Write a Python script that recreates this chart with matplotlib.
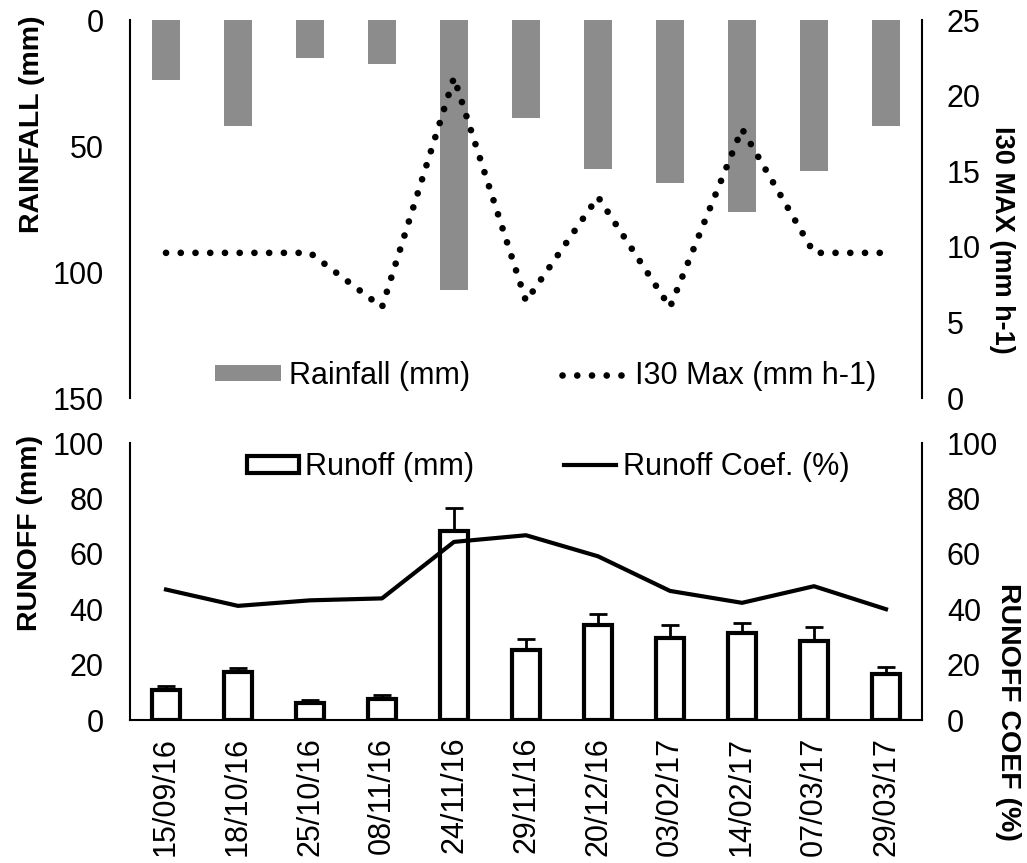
import matplotlib
matplotlib.use("Agg")
import matplotlib.pyplot as plt
import numpy as np
from matplotlib.patches import Patch
from matplotlib.lines import Line2D

plt.rcParams['font.family'] = ['Liberation Sans', 'DejaVu Sans']

dates = ["15/09/16", "18/10/16", "25/10/16", "08/11/16", "24/11/16", "29/11/16",
         "20/12/16", "03/02/17", "14/02/17", "07/03/17", "29/03/17"]
rainfall = [24, 42, 15, 17.5, 107, 39, 59, 64.5, 76, 60, 42]
i30max = [9.6, 9.6, 9.6, 6.0, 21.2, 6.4, 13.3, 6.0, 17.8, 9.6, 9.6]
runoff = [11, 17.3, 6.1, 7.7, 68.4, 25.4, 34.4, 29.6, 31.5, 28.6, 16.7]
runoff_err = [1.2, 1.5, 1.2, 1.5, 8.0, 3.7, 4.0, 4.7, 3.6, 5.0, 2.5]
runoff_coef = [47.1, 41.2, 43.2, 43.9, 64.3, 66.7, 59.1, 46.6, 42.3, 48.3, 40.0]

W, H = 1027, 863
fig = plt.figure(figsize=(W / 100, H / 100), dpi=100)

def fr(x0, y0, x1, y1):
    return [x0 / W, 1 - y1 / H, (x1 - x0) / W, (y1 - y0) / H]

x = np.arange(len(dates))
FS = 22
LFS = 20.5
gray = '#8c8c8c'

# ---------- top panel ----------
ax1 = fig.add_axes(fr(130, 20, 922, 398))
ax1.bar(x, rainfall, width=0.39, color=gray, zorder=1)
ax1.set_ylim(150, 0)
ax1.set_xlim(-0.5, len(dates) - 0.5)
ax1.set_yticks([0, 50, 100, 150])
ax1.set_xticks([])
for s in ['top', 'bottom']:
    ax1.spines[s].set_visible(False)
ax1.spines['left'].set_linewidth(1.5)
ax1.spines['right'].set_visible(False)
ax1.tick_params(axis='y', length=0, pad=19, labelsize=FS)
ax1.set_ylabel("RAINFALL (mm)", fontsize=LFS, fontweight='bold')
ax1.yaxis.set_label_coords(-0.124, 0.725)
ax1.yaxis.label.set_va('center')

ax1r = ax1.twinx()
dot_ls = (0, (0.01, 2.2))
DLW = 4.8
ax1r.plot(x, i30max, color='black', linewidth=DLW, linestyle=dot_ls,
          dash_capstyle='round', zorder=3)
ax1r.set_ylim(0, 25)
ax1r.set_yticks([0, 5, 10, 15, 20, 25])
for s in ['top', 'bottom', 'left']:
    ax1r.spines[s].set_visible(False)
ax1r.spines['right'].set_linewidth(1.5)
ax1r.tick_params(axis='y', length=0, pad=18, labelsize=FS)
ax1r.set_ylabel("I30 MAX (mm h-1)", fontsize=LFS - 1, fontweight='bold', rotation=270)
ax1r.yaxis.set_label_coords(1.1006, 0.419)
ax1r.yaxis.label.set_va('center')

h1 = [Patch(facecolor=gray, edgecolor='none', label="Rainfall (mm)"),
      Line2D([0], [0], color='black', linewidth=DLW, linestyle=dot_ls,
             dash_capstyle='round', label="I30 Max (mm h-1)")]
ax1r.legend(handles=h1, loc='center', bbox_to_anchor=(0.525, 0.058), ncol=2,
            frameon=False, fontsize=FS, handlelength=2.15, handleheight=0.45,
            handletextpad=0.25, columnspacing=3.0, borderpad=0)

# ---------- bottom panel ----------
ax2 = fig.add_axes(fr(130, 443, 922, 720))
ax2.bar(x, runoff, width=0.38, facecolor='white', edgecolor='black',
        linewidth=3, zorder=2)
ax2.errorbar(x, runoff, yerr=[np.zeros(len(x)), runoff_err], fmt='none',
             ecolor='black', elinewidth=2, capsize=6.5, capthick=2, zorder=1)
ax2.set_ylim(0, 100)
ax2.set_xlim(-0.5, len(dates) - 0.5)
ax2.set_yticks([0, 20, 40, 60, 80, 100])
ax2.set_xticks(x)
ax2.set_xticklabels(dates, rotation=90, fontsize=FS)
ax2.spines['top'].set_visible(False)
ax2.spines['right'].set_visible(False)
ax2.spines['left'].set_linewidth(1.5)
ax2.spines['bottom'].set_linewidth(1.5)
ax2.tick_params(axis='y', length=0, pad=19, labelsize=FS)
ax2.tick_params(axis='x', length=0, pad=12)
ax2.set_ylabel("RUNOFF (mm)", fontsize=LFS, fontweight='bold')
ax2.yaxis.set_label_coords(-0.126, 0.675)
ax2.yaxis.label.set_va('center')

ax2r = ax2.twinx()
ax2r.plot(x, runoff_coef, color='black', linewidth=3, zorder=3)
ax2r.set_ylim(0, 100)
ax2r.set_yticks([0, 20, 40, 60, 80, 100])
for s in ['top', 'bottom', 'left']:
    ax2r.spines[s].set_visible(False)
ax2r.spines['right'].set_linewidth(1.5)
ax2r.tick_params(axis='y', length=0, pad=18, labelsize=FS)
ax2r.set_ylabel("RUNOFF COEF (%)", fontsize=LFS, fontweight='bold', rotation=270)
ax2r.yaxis.set_label_coords(1.108, 0.03)
ax2r.yaxis.label.set_va('center')

h2 = [Patch(facecolor='white', edgecolor='black', linewidth=3, label="Runoff (mm)"),
      Line2D([0], [0], color='black', linewidth=3, label="Runoff Coef. (%)")]
ax2r.legend(handles=h2, loc='center', bbox_to_anchor=(0.528, 0.913), ncol=2,
            frameon=False, fontsize=FS, handlelength=1.7, handleheight=0.5,
            handletextpad=0.2, columnspacing=2.95, borderpad=0)

fig.savefig("out.png", dpi=100)
